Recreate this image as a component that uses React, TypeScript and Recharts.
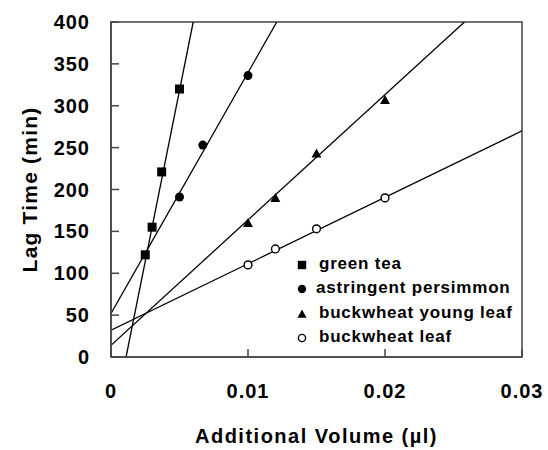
import React from 'react';
import {
  ComposedChart,
  Scatter,
  XAxis,
  YAxis,
  ReferenceLine,
  ReferenceArea
} from 'recharts';

// measured points
const greenTea = [
  { x: 0.0025, y: 122 },
  { x: 0.003, y: 155 },
  { x: 0.0037, y: 221 },
  { x: 0.005, y: 320 }
];
const persimmon = [
  { x: 0.005, y: 191 },
  { x: 0.0067, y: 253 },
  { x: 0.01, y: 336 }
];
const youngLeaf = [
  { x: 0.01, y: 160 },
  { x: 0.012, y: 190 },
  { x: 0.015, y: 243 },
  { x: 0.02, y: 307 }
];
const buckwheatLeaf = [
  { x: 0.01, y: 110 },
  { x: 0.012, y: 129 },
  { x: 0.015, y: 153 },
  { x: 0.02, y: 190 }
];

// regression line end points
const greenTeaFit = [{ x: 0.0011, y: 0 }, { x: 0.006, y: 400 }];
const persimmonFit = [{ x: 0, y: 52 }, { x: 0.0121, y: 400 }];
const youngLeafFit = [{ x: 0, y: 14 }, { x: 0.0258, y: 400 }];
const buckwheatLeafFit = [{ x: 0, y: 32 }, { x: 0.03, y: 270 }];

const xTicks = [0, 0.01, 0.02, 0.03];
const yTicks = [0, 50, 100, 150, 200, 250, 300, 350, 400];
const legendNames = ['green tea', 'astringent persimmon', 'buckwheat young leaf', 'buckwheat leaf'];

const FONT = '"Liberation Sans", Arial, Helvetica, sans-serif';
const FRAME = '#444';

type Kind = 'square' | 'circle' | 'triangle' | 'open';
const kinds: Kind[] = ['square', 'circle', 'triangle', 'open'];

const Marker = ({ cx, cy, kind, s = 4.5 }: { cx: number; cy: number; kind: Kind; s?: number }) => {
  if (cx == null || cy == null) return <g />;
  switch (kind) {
    case 'square':
      return <rect x={cx - s} y={cy - s} width={s * 2} height={s * 2} fill="#000" />;
    case 'circle':
      return <circle cx={cx} cy={cy} r={s} fill="#000" />;
    case 'triangle':
      return (
        <polygon
          points={`${cx},${cy - s * 1.1} ${cx - s * 1.1},${cy + s * 0.9} ${cx + s * 1.1},${cy + s * 0.9}`}
          fill="#000"
        />
      );
    default:
      return <circle cx={cx} cy={cy} r={s - 0.6} fill="#fff" stroke="#000" strokeWidth={1.4} />;
  }
};

const YTick = (props: any) => {
  const { x, y, payload } = props;
  return (
    <g>
      <line x1={x} y1={y} x2={x + 8} y2={y} stroke={FRAME} strokeWidth={1.5} />
      <text
        x={x - 21}
        y={y}
        dy={7}
        textAnchor="end"
        fontFamily={FONT}
        fontWeight="bold"
        fontSize={20}
        letterSpacing={1}
        fill="#000"
      >
        {payload.value}
      </text>
    </g>
  );
};

const XTick = (props: any) => {
  const { x, y, payload } = props;
  return (
    <g>
      <line x1={x} y1={y} x2={x} y2={y - 8} stroke={FRAME} strokeWidth={1.5} />
      <text
        x={x}
        y={y + 41}
        textAnchor="middle"
        fontFamily={FONT}
        fontWeight="bold"
        fontSize={20}
        letterSpacing={1}
        fill="#000"
      >
        {payload.value}
      </text>
    </g>
  );
};

// legend drawn as an overlay so it doesn't steal plot space
const LegendBox = () => (
  <div
    style={{
      position: 'absolute',
      left: 293,
      top: 252,
      fontFamily: FONT,
      fontWeight: 'bold',
      fontSize: 17,
      letterSpacing: 0.8,
      pointerEvents: 'none'
    }}
  >
    {legendNames.map((name, i) => (
      <div key={name} style={{ display: 'flex', alignItems: 'center', height: 24.3 }}>
        <svg width={20} height={20} style={{ marginRight: 6 }}>
          <Marker cx={9} cy={11} kind={kinds[i]} s={4.2} />
        </svg>
        <span style={{ marginLeft: i === 1 ? -3 : 0 }}>{name}</span>
      </div>
    ))}
  </div>
);

const fits = [greenTeaFit, persimmonFit, youngLeafFit, buckwheatLeafFit];
const series = [greenTea, persimmon, youngLeaf, buckwheatLeaf];

export default function App() {
  return (
    <div style={{ position: 'absolute', left: 0, top: 0, width: 548, height: 450, background: '#fff' }}>
      <ComposedChart width={548} height={450} margin={{ top: 22, right: 26, left: 0, bottom: 0 }}>
        <XAxis
          type="number"
          dataKey="x"
          domain={[0, 0.03]}
          ticks={xTicks}
          interval={0}
          height={93}
          tickSize={0}
          tickMargin={0}
          tickLine={false}
          axisLine={{ stroke: FRAME, strokeWidth: 1.5 }}
          tick={<XTick />}
          allowDataOverflow
          label={{
            content: (p: any) => {
              const vb = p.viewBox;
              return (
                <text
                  x={vb.x + vb.width / 2}
                  y={vb.y + 86}
                  textAnchor="middle"
                  fontFamily={FONT}
                  fontWeight="bold"
                  fontSize={20}
                  letterSpacing={1.5}
                  fill="#000"
                >
                  Additional Volume (µl)
                </text>
              );
            }
          }}
        />
        <YAxis
          type="number"
          dataKey="y"
          domain={[0, 400]}
          ticks={yTicks}
          interval={0}
          width={111}
          tickSize={0}
          tickMargin={0}
          tickLine={false}
          axisLine={{ stroke: FRAME, strokeWidth: 1.5 }}
          tick={<YTick />}
          allowDataOverflow
          label={{
            content: (p: any) => {
              const vb = p.viewBox;
              const cx = vb.x + 37;
              const cy = vb.y + vb.height / 2;
              return (
                <text
                  x={cx}
                  y={cy}
                  transform={`rotate(-90 ${cx} ${cy})`}
                  textAnchor="middle"
                  fontFamily={FONT}
                  fontWeight="bold"
                  fontSize={21}
                  letterSpacing={1.2}
                  fill="#000"
                >
                  Lag Time (min)
                </text>
              );
            }
          }}
        />
        <ReferenceArea x1={0} x2={0.03} y1={0} y2={400} fill="none" stroke={FRAME} strokeWidth={1.5} />
        {fits.map((seg, i) => (
          <ReferenceLine key={`fit-${i}`} segment={seg} stroke="#000" strokeWidth={1.3} ifOverflow="hidden" />
        ))}
        {series.map((data, i) => (
          <Scatter
            key={`s-${i}`}
            name={legendNames[i]}
            data={data}
            isAnimationActive={false}
            shape={(p: any) => <Marker cx={p.cx} cy={p.cy} kind={kinds[i]} />}
          />
        ))}
      </ComposedChart>
      <LegendBox />
    </div>
  );
}
